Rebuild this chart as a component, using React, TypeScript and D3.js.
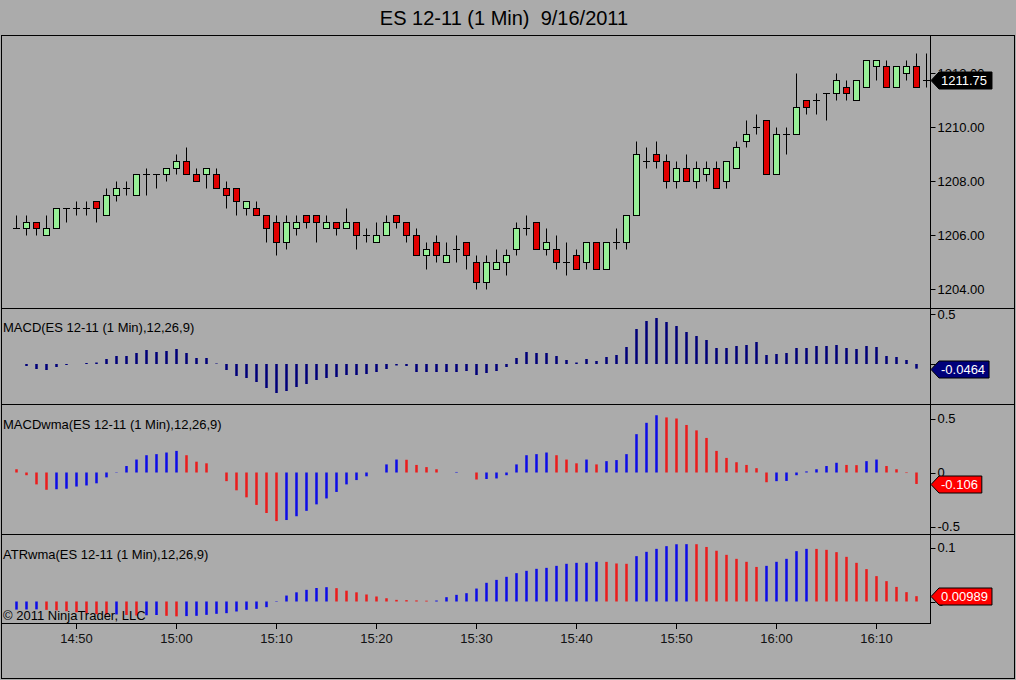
import React, { useEffect } from "react";
import * as d3 from "d3";

// ---------- DATA ----------
const TITLE = "ES 12-11 (1 Min)  9/16/2011";
const START = new Date(2011, 8, 16, 14, 44);

const OPEN = [
  1206.25, 1206.25, 1206.5, 1206.0, 1206.25, 1207.0, 1207.0, 1207.0, 1207.25, 1206.75,
  1207.5, 1207.75, 1207.5, 1208.25, 1208.25, 1208.25, 1208.5, 1208.75, 1208.25, 1208.25,
  1208.25, 1207.75, 1207.75, 1207.0, 1207.0, 1206.75, 1206.5, 1205.75, 1206.25, 1206.75,
  1206.75, 1206.25, 1206.5, 1206.25, 1206.5, 1206.0, 1205.75, 1206.0, 1206.75, 1206.5,
  1206.0, 1205.25, 1205.75, 1205.0, 1205.5, 1205.75, 1205.0, 1204.25, 1204.75, 1205.0,
  1205.5, 1206.25, 1206.5, 1205.5, 1205.5, 1205.0, 1205.25, 1205.0, 1205.75, 1204.75,
  1205.75, 1205.75, 1206.75, 1208.75, 1209.0, 1208.75, 1208.0, 1208.5, 1208.0, 1208.25,
  1208.5, 1208.0, 1208.5, 1209.5, 1210.0, 1210.25, 1208.25, 1209.75, 1209.75, 1211.0,
  1211.0, 1211.25, 1211.25, 1211.5, 1211.0, 1211.5, 1212.25, 1212.25, 1211.5, 1212.0,
  1212.25, 1211.75,
];
const HIGH = [
  1206.75, 1206.75, 1206.5, 1206.75, 1207.0, 1207.0, 1207.25, 1207.25, 1207.25, 1207.75,
  1208.0, 1208.0, 1208.25, 1208.5, 1208.25, 1208.5, 1209.0, 1209.25, 1208.5, 1208.5,
  1208.5, 1208.0, 1207.75, 1207.25, 1207.25, 1206.75, 1206.75, 1206.75, 1206.75, 1206.75,
  1206.75, 1206.75, 1206.5, 1207.0, 1206.5, 1206.25, 1206.5, 1206.75, 1206.75, 1206.5,
  1206.25, 1205.75, 1206.0, 1205.75, 1206.0, 1205.75, 1205.25, 1205.25, 1205.5, 1205.5,
  1206.5, 1206.75, 1206.5, 1206.25, 1206.0, 1205.75, 1205.5, 1205.75, 1205.75, 1205.75,
  1206.25, 1206.75, 1209.5, 1209.25, 1209.5, 1209.0, 1208.75, 1209.0, 1208.75, 1208.75,
  1208.75, 1208.75, 1209.5, 1210.25, 1210.5, 1210.25, 1210.0, 1210.0, 1212.0, 1211.0,
  1211.25, 1211.25, 1212.0, 1211.75, 1211.75, 1212.5, 1212.5, 1212.5, 1212.25, 1212.5,
  1212.75, 1212.75,
];
const LOW = [
  1206.25, 1206.0, 1206.0, 1206.0, 1206.25, 1206.5, 1206.75, 1206.75, 1206.5, 1206.75,
  1207.25, 1207.5, 1207.5, 1207.5, 1207.75, 1208.0, 1208.25, 1208.25, 1208.0, 1207.75,
  1207.75, 1207.0, 1206.75, 1206.75, 1206.75, 1205.75, 1205.25, 1205.5, 1206.0, 1206.25,
  1205.75, 1206.25, 1206.0, 1206.25, 1205.5, 1205.75, 1205.75, 1206.0, 1206.25, 1205.75,
  1205.25, 1204.75, 1205.0, 1205.0, 1205.0, 1204.75, 1204.0, 1204.0, 1204.75, 1204.5,
  1205.25, 1206.0, 1205.5, 1205.25, 1204.75, 1204.5, 1204.75, 1204.75, 1204.75, 1204.75,
  1205.5, 1205.5, 1206.75, 1208.5, 1208.5, 1207.75, 1207.75, 1208.0, 1207.75, 1208.0,
  1207.75, 1207.75, 1208.5, 1209.25, 1209.75, 1208.25, 1208.25, 1209.0, 1209.75, 1210.5,
  1210.5, 1210.25, 1211.0, 1211.0, 1211.0, 1211.5, 1211.75, 1211.5, 1211.5, 1211.75,
  1211.5, 1211.5,
];
const CLOSE = [
  1206.25, 1206.5, 1206.25, 1206.25, 1207.0, 1207.0, 1207.0, 1207.0, 1207.0, 1207.5,
  1207.75, 1207.75, 1208.25, 1208.25, 1208.25, 1208.5, 1208.75, 1208.25, 1208.0, 1208.5,
  1207.75, 1207.5, 1207.25, 1207.25, 1206.75, 1206.25, 1205.75, 1206.5, 1206.5, 1206.5,
  1206.5, 1206.5, 1206.25, 1206.5, 1206.0, 1206.0, 1206.0, 1206.5, 1206.5, 1206.0,
  1205.25, 1205.5, 1205.25, 1205.25, 1205.5, 1205.25, 1204.25, 1205.0, 1205.0, 1205.25,
  1206.25, 1206.25, 1205.5, 1205.75, 1205.0, 1205.0, 1204.75, 1205.75, 1204.75, 1205.75,
  1205.75, 1206.75, 1209.0, 1208.75, 1208.75, 1208.0, 1208.5, 1208.0, 1208.5, 1208.5,
  1207.75, 1208.75, 1209.25, 1209.75, 1210.0, 1208.25, 1209.75, 1209.75, 1210.75, 1210.75,
  1211.0, 1211.25, 1211.75, 1211.25, 1211.75, 1212.5, 1212.5, 1211.5, 1212.25, 1212.25,
  1211.5, 1211.75,
];

const MACD: (number | null)[] = [
  null, -0.02, -0.05, -0.06, -0.03, -0.01, 0, 0.01, 0.015, 0.05,
  0.08, 0.08, 0.11, 0.14, 0.12, 0.13, 0.15, 0.11, 0.06, 0.06,
  0.005, -0.06, -0.12, -0.14, -0.18, -0.24, -0.29, -0.27, -0.23, -0.2,
  -0.16, -0.14, -0.13, -0.11, -0.11, -0.1, -0.08, -0.05, -0.015, -0.02,
  -0.08, -0.08, -0.08, -0.08, -0.08, -0.07, -0.11, -0.09, -0.07, -0.03,
  0.06, 0.12, 0.11, 0.11, 0.08, 0.04, 0.015, 0.05, 0.03, 0.07,
  0.09, 0.17, 0.35, 0.43, 0.46, 0.42, 0.38, 0.32, 0.28, 0.24,
  0.16, 0.16, 0.18, 0.19, 0.22, 0.09, 0.1, 0.11, 0.16, 0.16,
  0.18, 0.18, 0.19, 0.16, 0.15, 0.18, 0.17, 0.08, 0.07, 0.04,
  -0.0464, null,
];

const MACD_WMA: (number | null)[] = [
  0.03, -0.025, -0.11, -0.16, -0.155, -0.15, -0.13, -0.12, -0.1, -0.045,
  0.003, 0.06, 0.12, 0.16, 0.17, 0.185, 0.2, 0.16, 0.1, 0.085,
  0, -0.08, -0.165, -0.23, -0.3, -0.375, -0.45, -0.44, -0.405, -0.355,
  -0.295, -0.24, -0.18, -0.11, -0.07, -0.035, 0, 0.075, 0.12, 0.118,
  0.07, 0.05, 0.03, 0, 0.005, 0, -0.065, -0.06, -0.055, -0.025,
  0.075, 0.16, 0.17, 0.185, 0.16, 0.12, 0.085, 0.12, 0.075, 0.105,
  0.115, 0.17, 0.355, 0.46, 0.53, 0.51, 0.5, 0.44, 0.39, 0.32,
  0.2, 0.135, 0.095, 0.07, 0.04, -0.09, -0.08, -0.078, -0.025, 0.01,
  0.03, 0.06, 0.09, 0.07, 0.068, 0.105, 0.12, 0.06, 0.03, -0.005,
  -0.106, null,
];

const ATR_WMA: (number | null)[] = [
  -0.015, -0.0148, -0.0146, -0.0155, -0.0165, -0.018, -0.02, -0.022, -0.0235, -0.0245,
  -0.024, -0.025, -0.026, -0.0255, -0.025, -0.0265, -0.0275, -0.027, -0.0265, -0.0247,
  -0.0228, -0.0216, -0.0185, -0.0154, -0.0136, -0.0105, 0.0008, 0.011, 0.017, 0.0216,
  0.025, 0.0265, 0.0247, 0.02, 0.017, 0.013, 0.0093, 0.006, 0.003, 0.0025,
  0.002, 0.0015, 0.0018, 0.008, 0.0123, 0.0154, 0.024, 0.0346, 0.04, 0.0457,
  0.0525, 0.0568, 0.0605, 0.0623, 0.066, 0.0698, 0.0716, 0.0717, 0.0735, 0.0734,
  0.0704, 0.0698, 0.084, 0.092, 0.0975, 0.1025, 0.106, 0.1062, 0.1061, 0.101,
  0.094, 0.0864, 0.079, 0.0735, 0.064, 0.066, 0.0735, 0.079, 0.0932, 0.0975,
  0.0974, 0.0957, 0.0914, 0.0827, 0.0716, 0.06, 0.047, 0.0377, 0.027, 0.0173,
  0.00989, null,
];

const PRICE_TICKS = [1204, 1206, 1208, 1210, 1212];
const MACD_TICKS = [0.5];
const WMA_TICKS = [-0.5, 0, 0.5];
const ATR_TICKS = [0, 0.1];

const MACD_TITLE = "MACD(ES 12-11 (1 Min),12,26,9)";
const WMA_TITLE = "MACDwma(ES 12-11 (1 Min),12,26,9)";
const ATR_TITLE = "ATRwma(ES 12-11 (1 Min),12,26,9)";
const COPYRIGHT = "\u00a9 2011 NinjaTrader, LLC";

// ---------- STYLE ----------
const BG = "#ababab";
const UP = "#98f098";
const DOWN = "#e00000";
const NAVY = "#00007a";
const BLUE = "#0c0ce8";
const RED = "#ec1c1c";
const FONT = "'Liberation Sans', Arial, sans-serif";

const PLOT_RIGHT = 930.5;

export default function App() {
  useEffect(() => {
    document.body.style.margin = "0";
    document.body.style.background = BG;
  }, []);

  const times = OPEN.map((_, i) => d3.timeMinute.offset(START, i));
  const x = d3
    .scaleTime()
    .domain([times[0], times[times.length - 1]])
    .range([16, 926]);

  const yP = d3.scaleLinear().domain([1204, 1210]).range([289, 127]);
  const yM = d3.scaleLinear().domain([0, 0.5]).range([364, 314]);
  const yW = d3.scaleLinear().domain([-0.5, 0.5]).range([526.5, 418.5]);
  const yA = d3.scaleLinear().domain([0, 0.1]).range([601.5, 547.5]);

  const timeTicks = x.ticks(d3.timeMinute.every(10)!).filter((t) => t.getMinutes() % 10 === 0);
  const fmtTime = d3.timeFormat("%H:%M");

  const dirColor = (arr: (number | null)[], i: number) => {
    const v = arr[i];
    if (v == null) return RED;
    const prev = i > 0 ? arr[i - 1] : null;
    if (prev == null) {
      const next = arr[i + 1];
      return next != null && next > v ? BLUE : RED;
    }
    return v >= prev ? BLUE : RED;
  };

  const bars = (
    arr: (number | null)[],
    y: d3.ScaleLinear<number, number>,
    colorFn: (i: number) => string
  ) =>
    arr.map((v, i) => {
      if (v == null) return null;
      const cx = Math.round(x(times[i])) + 0.5;
      const y0 = y(0);
      const y1 = y(v);
      return (
        <rect
          key={i}
          x={cx - 1.25}
          width={2.5}
          y={Math.min(y0, y1)}
          height={Math.abs(y1 - y0)}
          fill={colorFn(i)}
        />
      );
    });

  const axisTicks = (
    ticks: number[],
    y: d3.ScaleLinear<number, number>,
    fmt: (v: number) => string
  ) =>
    ticks.map((t) => (
      <g key={t}>
        <line x1={PLOT_RIGHT} x2={PLOT_RIGHT + 5} y1={Math.round(y(t)) + 0.5} y2={Math.round(y(t)) + 0.5} stroke="#000" />
        <text x={PLOT_RIGHT + 7} y={y(t)} dy="0.35em" fontSize={13} fill="#000">
          {fmt(t)}
        </text>
      </g>
    ));

  const valueLabel = (y: number, text: string, fill: string) => {
    const cy = Math.round(y) + 0.5;
    const digits = text.replace(/[^0-9]/g, "").length;
    const w = digits * 7.23 + (text.includes(".") ? 3.6 : 0) + (text.includes("-") ? 4.3 : 0);
    const left = 939;
    const right = left + w + 6;
    const pts = [
      [PLOT_RIGHT + 0.5, cy],
      [left, cy - 8.5],
      [right, cy - 8.5],
      [right, cy + 8.5],
      [left, cy + 8.5],
    ]
      .map((p) => p.join(","))
      .join(" ");
    return (
      <g>
        <polygon points={pts} fill={fill} stroke="#000" strokeWidth={1} />
        <text x={left + 2} y={cy} dy="0.35em" fontSize={13} fill="#fff">
          {text}
        </text>
      </g>
    );
  };

  const fmtP = d3.format(".2f");
  const fmtI = (v: number) => (v === 0 ? "0" : String(v));

  const lastIndex = (arr: (number | null)[]) =>
    arr.map((v, i) => (v == null ? -1 : i)).reduce((a, b) => Math.max(a, b));
  const lastIdx = CLOSE.length - 1;
  const lastMacdIdx = lastIndex(MACD);
  const lastWmaIdx = lastIndex(MACD_WMA);
  const lastAtrIdx = lastIndex(ATR_WMA);

  return (
    <svg
      width={1016}
      height={680}
      style={{ position: "absolute", left: 0, top: 0, display: "block", background: BG, fontFamily: FONT }}
    >
      <rect x={0} y={0} width={1016} height={680} fill={BG} />
      <text x={504} y={25} textAnchor="middle" fontSize={20} fill="#000" style={{ whiteSpace: "pre" }}>
        {TITLE}
      </text>

      {/* frames */}
      <rect x={1.5} y={35.5} width={1013} height={643} fill="none" stroke="#000" />
      {[308.5, 404.5, 534.5].map((yy) => (
        <line key={yy} x1={1} x2={1015} y1={yy} y2={yy} stroke="#000" />
      ))}
      <line x1={1} x2={PLOT_RIGHT} y1={623.5} y2={623.5} stroke="#000" />
      <line x1={PLOT_RIGHT} x2={PLOT_RIGHT} y1={35} y2={624} stroke="#000" />

      {/* candles */}
      {OPEN.map((o, i) => {
        const c = CLOSE[i];
        const cx = Math.round(x(times[i])) + 0.5;
        const yh = Math.round(yP(HIGH[i])) + 0.5;
        const yl = Math.round(yP(LOW[i])) + 0.5;
        const yt = Math.round(yP(Math.max(o, c))) + 0.5;
        const yb = Math.round(yP(Math.min(o, c))) + 0.5;
        return (
          <g key={i}>
            <line x1={cx} x2={cx} y1={yh} y2={yl} stroke="#000" />
            {o === c ? (
              <line x1={cx - 3.5} x2={cx + 3.5} y1={yt} y2={yt} stroke="#000" />
            ) : (
              <rect x={cx - 3} y={yt} width={6} height={yb - yt} fill={c > o ? UP : DOWN} stroke="#000" />
            )}
          </g>
        );
      })}

      {/* indicator bars */}
      {bars(MACD, yM, () => NAVY)}
      {bars(MACD_WMA, yW, (i) => dirColor(MACD_WMA, i))}
      {bars(ATR_WMA, yA, (i) => dirColor(ATR_WMA, i))}

      {/* panel titles */}
      <g fontSize={13} fill="#000">
        <text x={3} y={332}>{MACD_TITLE}</text>
        <text x={3} y={429}>{WMA_TITLE}</text>
        <text x={3} y={559}>{ATR_TITLE}</text>
        <text x={3} y={620}>{COPYRIGHT}</text>
      </g>

      {/* right axes */}
      {axisTicks(PRICE_TICKS, yP, fmtP)}
      <line x1={PLOT_RIGHT} x2={PLOT_RIGHT + 5} y1={Math.round(yM(0)) + 0.5} y2={Math.round(yM(0)) + 0.5} stroke="#000" />
      {axisTicks(MACD_TICKS, yM, fmtI)}
      {axisTicks(WMA_TICKS, yW, fmtI)}
      {axisTicks(ATR_TICKS, yA, fmtI)}

      {/* time axis */}
      {timeTicks.map((t) => {
        const tx = Math.round(x(t)) + 0.5;
        return (
          <g key={+t}>
            <line x1={tx} x2={tx} y1={624} y2={629} stroke="#000" />
            <text x={tx} y={643} textAnchor="middle" fontSize={13} fill="#111">
              {fmtTime(t)}
            </text>
          </g>
        );
      })}

      {/* value labels */}
      {valueLabel(yP(CLOSE[lastIdx]), fmtP(CLOSE[lastIdx]), "#000")}
      {valueLabel(yM(MACD[lastMacdIdx]!), String(MACD[lastMacdIdx]), NAVY)}
      {valueLabel(yW(MACD_WMA[lastWmaIdx]!), String(MACD_WMA[lastWmaIdx]), "#ff0000")}
      {valueLabel(yA(ATR_WMA[lastAtrIdx]!), String(ATR_WMA[lastAtrIdx]), "#ff0000")}
    </svg>
  );
}
